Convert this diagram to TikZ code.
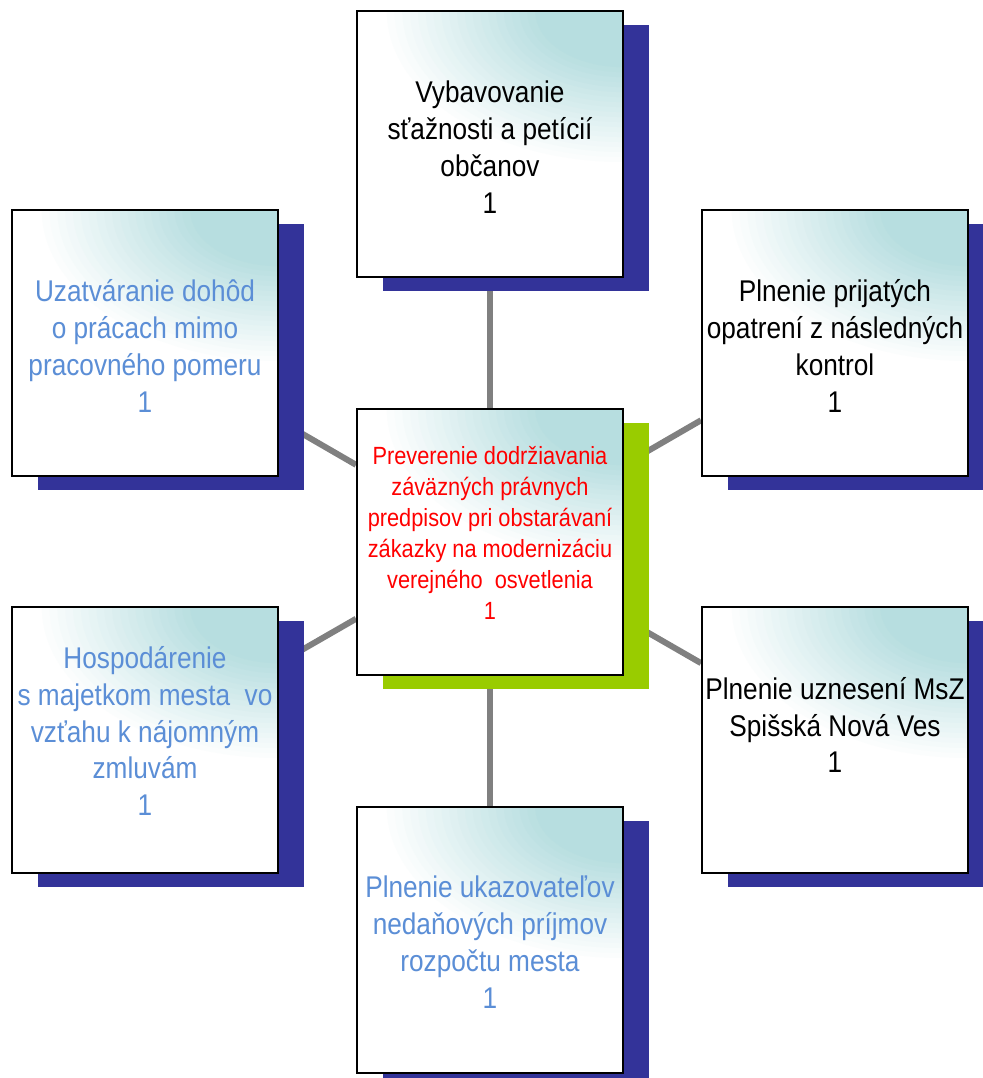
\documentclass[tikz,border=0pt]{standalone}
\usepackage{fontspec}
\setmainfont{Liberation Sans}[FakeStretch=0.875]
\usetikzlibrary{shadows}
\usetikzlibrary{backgrounds}
\definecolor{glowteal}{HTML}{B7DEE0}
\definecolor{shadowblue}{HTML}{333399}
\definecolor{shadowgreen}{HTML}{99CC00}
\definecolor{textblue}{HTML}{5B8ED6}
\definecolor{linkgray}{HTML}{808080}
% teal glow out of the upper right corner, wider than high
\tikzset{glow/.style={path picture={
  \foreach \k in {1,...,20} {
    \pgfmathtruncatemacro\glowpct{\k*5}
    \pgfmathsetmacro\glowrx{6.1*(1-0.032*\k)}
    \pgfmathsetmacro\glowry{3.9*(1-0.032*\k)}
    \fill [glowteal!\glowpct!white] (path picture bounding box.north east) ellipse [x radius=\glowrx cm, y radius=\glowry cm];
  }}}}
\tikzset{topic/.style={draw=black, line width=1.4pt, fill=white, glow,
  minimum width=6.65cm, minimum height=6.65cm, inner sep=0pt,
  drop shadow={shadow xshift=0.65cm, shadow yshift=-0.34cm, fill=shadowblue, opacity=1}}}
\tikzset{maintopic/.style={topic,
  drop shadow={shadow xshift=0.65cm, shadow yshift=-0.34cm, fill=shadowgreen, opacity=1}}}
\tikzset{caption/.style={align=center, font=\fontsize{21.3pt}{26.3pt}\selectfont}}
\tikzset{link/.style={linkgray, line width=0.15cm}}

\begin{document}
\begin{tikzpicture}
      \useasboundingbox (0, 0) rectangle (24.575, 26.95);
      % boxes
      \node [maintopic] (mid) at (12.25, 13.4) {};
      \node [topic] (top) at (12.25, 23.35) {};
      \node [topic] (bot) at (12.25, 3.45) {};
      \node [topic] (lt) at (3.625, 18.375) {};
      \node [topic] (lb) at (3.625, 8.45) {};
      \node [topic] (rt) at (20.875, 18.375) {};
      \node [topic] (rb) at (20.875, 8.45) {};
    \begin{scope}[on background layer]
      \draw [link] (mid) -- (top);
      \draw [link] (mid) -- (bot);
      \draw [link] (mid) -- (lt);
      \draw [link] (mid) -- (lb);
      \draw [link] (mid) -- (rt);
      \draw [link] (mid) -- (rb);
    \end{scope}
      % texts
      \node [align=center, red, font=\fontsize{17.7pt}{22pt}\selectfont] (midtext) at ([yshift=0.225cm]mid.center) {Preverenie dodržiavania\\záväzných právnych\\predpisov pri obstarávaní\\zákazky na modernizáciu\\verejného~ osvetlenia\\1};
      \node [caption] (toptext) at ([yshift=-0.09cm]top.center) {Vybavovanie\\sťažnosti a petícií\\občanov\\1};
      \node [caption, textblue] (bottext) at ([yshift=-0.05cm]bot.center) {Plnenie ukazovateľov\\nedaňových príjmov\\rozpočtu mesta\\1};
      \node [caption, textblue] (lttext) at ([yshift=-0.075cm]lt.center) {Uzatváranie dohôd\\o prácach mimo\\pracovného pomeru\\1};
      \node [caption, textblue] (lbtext) at ([yshift=0.225cm]lb.center) {Hospodárenie\\s majetkom mesta~ vo\\vzťahu k nájomným\\zmluvám\\1};
      \node [caption] (rttext) at ([yshift=-0.075cm]rt.center) {Plnenie prijatých\\opatrení z následných\\kontrol\\1};
      \node [caption] (rbtext) at ([yshift=0.375cm]rb.center) {Plnenie uznesení MsZ\\Spišská Nová Ves\\1};
    \end{tikzpicture}
\end{document}
